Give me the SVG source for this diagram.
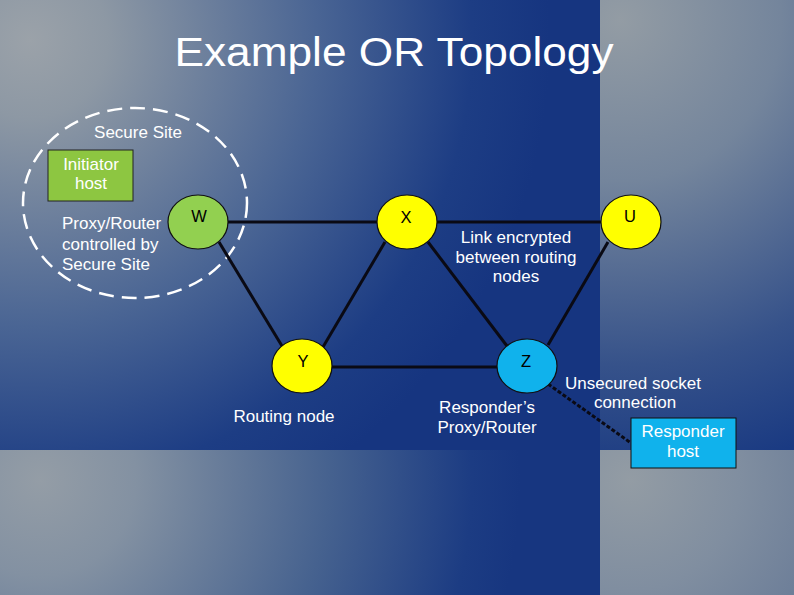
<svg xmlns="http://www.w3.org/2000/svg" width="794" height="595" viewBox="0 0 794 595">
<defs>
<radialGradient id="bgTL" gradientUnits="userSpaceOnUse" cx="30" cy="40" r="520">
<stop offset="0" stop-color="#9ba2a9"/>
<stop offset="0.15" stop-color="#8d98a4"/>
<stop offset="0.55" stop-color="#4a6594"/>
<stop offset="0.85" stop-color="#1d3d84"/>
<stop offset="1" stop-color="#163580"/>
</radialGradient>
<radialGradient id="bgBL" gradientUnits="userSpaceOnUse" cx="40" cy="480" r="480">
<stop offset="0" stop-color="#949da6"/>
<stop offset="0.2" stop-color="#8391a2"/>
<stop offset="0.6" stop-color="#46628f"/>
<stop offset="0.9" stop-color="#1c3c83"/>
<stop offset="1" stop-color="#173680"/>
</radialGradient>
<radialGradient id="bgTR" gradientUnits="userSpaceOnUse" cx="620" cy="20" r="460">
<stop offset="0" stop-color="#939ca4"/>
<stop offset="0.35" stop-color="#74859c"/>
<stop offset="0.75" stop-color="#36528a"/>
<stop offset="1" stop-color="#1a3a82"/>
</radialGradient>
<radialGradient id="bgBR" gradientUnits="userSpaceOnUse" cx="630" cy="480" r="220">
<stop offset="0" stop-color="#939ca4"/>
<stop offset="0.5" stop-color="#808ea0"/>
<stop offset="1" stop-color="#697b97"/>
</radialGradient>
<style>
.t{font-family:"Liberation Sans",Arial,sans-serif;fill:#ffffff;font-size:17px}
.c{text-anchor:middle}
.lbl{font-family:"Liberation Sans",Arial,sans-serif;fill:#000000;font-size:16.5px;text-anchor:middle}
.ln{stroke:#0a0a14;stroke-width:3;fill:none}
.node{stroke:#111111;stroke-width:1.2}
</style>
</defs>
<rect x="0" y="0" width="600" height="450" fill="url(#bgTL)"/>
<rect x="0" y="450" width="600" height="145" fill="url(#bgBL)"/>
<rect x="600" y="0" width="194" height="450" fill="url(#bgTR)"/>
<rect x="600" y="450" width="194" height="145" fill="url(#bgBR)"/>

<text x="394" y="66" font-family="'Liberation Sans',Arial,sans-serif" font-size="41" fill="#ffffff" text-anchor="middle" textLength="439" lengthAdjust="spacingAndGlyphs">Example OR Topology</text>

<g id="secure-site">
<ellipse cx="135" cy="203" rx="112" ry="95" fill="none" stroke="#ffffff" stroke-width="2.5" stroke-dasharray="15 8"/>
<text class="t c" x="138" y="138">Secure Site</text>
</g>

<g id="connectors">
<line class="ln" x1="228" y1="222" x2="377" y2="222"/>
<line class="ln" x1="437" y1="222" x2="601" y2="222"/>
<line class="ln" x1="219" y1="242" x2="282" y2="346"/>
<line class="ln" x1="385" y1="242" x2="323" y2="347"/>
<line class="ln" x1="428" y1="242" x2="507" y2="346"/>
<line class="ln" x1="608" y1="242" x2="548" y2="345"/>
<line class="ln" x1="332" y1="367" x2="497" y2="367"/>
<line class="ln" x1="548" y1="384" x2="631" y2="443" stroke-dasharray="4 2"/>
</g>

<g id="initiator-host">
<rect x="48" y="150" width="85" height="51" fill="#8dc641" stroke="#222222" stroke-width="1"/>
<text class="t c" x="91" y="170">Initiator</text>
<text class="t c" x="91" y="189">host</text>
</g>

<g id="proxy-label">
<text class="t" x="62" y="229">Proxy/Router</text>
<text class="t" x="62" y="250">controlled by</text>
<text class="t" x="62" y="270">Secure Site</text>
</g>

<g id="node-W">
<ellipse class="node" cx="198" cy="222" rx="30" ry="27" fill="#92d050"/>
<text class="lbl" x="199" y="222">W</text>
</g>
<g id="node-X">
<ellipse class="node" cx="407" cy="222" rx="30" ry="27" fill="#ffff00"/>
<text class="lbl" x="406" y="223">X</text>
</g>
<g id="node-U">
<ellipse class="node" cx="631" cy="222" rx="30" ry="27" fill="#ffff00"/>
<text class="lbl" x="630" y="222">U</text>
</g>
<g id="node-Y">
<ellipse class="node" cx="302" cy="366" rx="30" ry="27" fill="#ffff00"/>
<text class="lbl" x="303" y="367">Y</text>
</g>
<g id="node-Z">
<ellipse class="node" cx="527" cy="366" rx="30" ry="27" fill="#10b2ec"/>
<text class="lbl" x="526" y="367">Z</text>
</g>

<g id="link-label">
<text class="t c" x="516" y="243">Link encrypted</text>
<text class="t c" x="516" y="263">between routing</text>
<text class="t c" x="516" y="282">nodes</text>
</g>

<g id="routing-label">
<text class="t c" x="284" y="422">Routing node</text>
</g>

<g id="responder-proxy-label">
<text class="t c" x="487" y="413">Responder’s</text>
<text class="t c" x="487" y="433">Proxy/Router</text>
</g>

<g id="unsecured-label">
<text class="t c" x="633" y="389">Unsecured socket</text>
<text class="t c" x="635" y="408">connection</text>
</g>

<g id="responder-host">
<rect x="631" y="418" width="105" height="50" fill="#10b2ec" stroke="#111111" stroke-width="1"/>
<text class="t c" x="683" y="437">Responder</text>
<text class="t c" x="683" y="457">host</text>
</g>
</svg>
